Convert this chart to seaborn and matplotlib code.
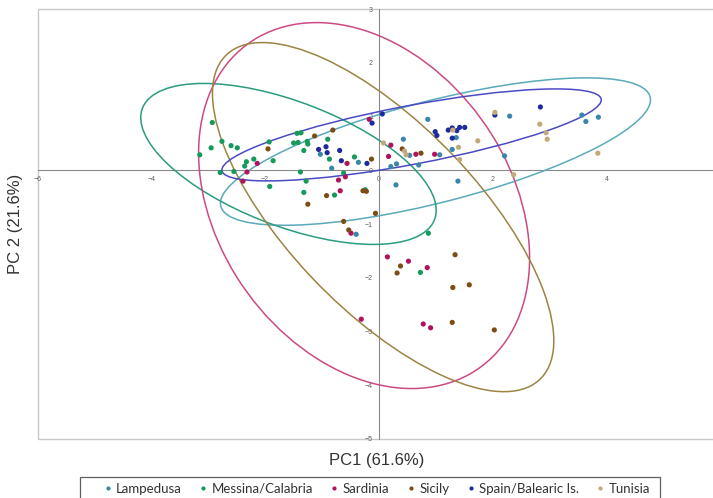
import numpy as np
import pandas as pd
import matplotlib
matplotlib.use("Agg")
import matplotlib.pyplot as plt
from matplotlib.patches import Ellipse, Rectangle
from matplotlib.lines import Line2D
import seaborn as sns

# populations (legend order)
groups = ["Lampedusa", "Messina/Calabria", "Sardinia", "Sicily",
          "Spain/Balearic Is.", "Tunisia"]

# PCA scores
lampedusa_pc1 = [-1.03, -0.83, -0.36, -0.40, 0.86, 0.43, 1.36, 1.29, 1.07, 0.70,
                 0.31, 0.21, 0.54, 0.30, 1.39, 2.30, 3.57, 3.64, 3.86, 2.21]
lampedusa_pc2 = [0.30, 0.04, 0.15, -1.19, 0.95, 0.58, 0.61, 0.39, 0.29, 0.10,
                 0.12, 0.07, 0.28, -0.27, -0.20, 1.01, 1.03, 0.91, 0.99, 0.27]

messina_pc1 = [-2.93, -2.76, -2.95, -3.15, -2.60, -2.49, -2.20, -2.33, -2.36, -2.79,
               -2.55, -1.93, -1.86, -1.92, -1.44, -1.37, -1.50, -1.42, -1.26, -1.25,
               -1.32, -0.90, -0.87, -1.38, -1.28, -1.32, -0.78, -0.62, -0.43, -0.24,
               0.87, 0.73]
messina_pc2 = [0.89, 0.54, 0.42, 0.29, 0.46, 0.42, 0.21, 0.16, 0.08, -0.04,
               -0.02, 0.53, 0.18, -0.30, 0.69, 0.70, 0.51, 0.52, 0.54, 0.49,
               0.37, 0.58, 0.21, -0.03, -0.20, -0.41, -0.46, -0.05, 0.25, -0.36,
               -1.17, -1.90]

sardinia_pc1 = [-2.14, -2.32, -2.39, -0.56, -0.71, -0.68, -0.59, -0.17, 0.17, 0.21,
                0.65, 0.98, -0.49, 0.15, 0.52, 0.85, -0.31, 0.78, 0.91]
sardinia_pc2 = [0.13, -0.03, -0.20, 0.13, -0.18, -0.38, -0.12, 0.95, 0.26, 0.47,
                0.30, 0.30, -1.17, -1.61, -1.69, -1.81, -2.77, -2.86, -2.93]

sicily_pc1 = [-1.95, -1.13, -0.81, -0.13, -0.28, -0.22, -0.92, -1.25, -0.06, -0.62,
              -0.53, 0.41, 0.74, 0.38, 0.32, 1.34, 1.30, 1.59, 1.29, 2.03]
sicily_pc2 = [0.40, 0.64, 0.75, 0.21, -0.38, -0.39, -0.47, -0.63, -0.80, -0.95,
              -1.11, 0.40, 0.32, -1.78, -1.91, -1.57, -2.18, -2.13, -2.83, -2.97]

spain_pc1 = [-0.93, -0.91, -1.06, -0.69, -0.66, -0.21, -0.12, 0.06, 0.99, 1.02,
             1.22, 1.29, 1.37, 1.42, 1.51, 1.29, 2.04, 2.84]
spain_pc2 = [0.44, 0.33, 0.39, 0.37, 0.18, 0.13, 0.88, 1.05, 0.72, 0.65,
             0.75, 0.79, 0.74, 0.80, 0.80, 0.60, 1.03, 1.18]

tunisia_pc1 = [0.08, 0.45, 0.48, 1.30, 1.40, 1.42, 1.74, 2.04, 2.83, 2.94,
               2.96, 2.37, 3.85]
tunisia_pc2 = [0.51, 0.36, 0.29, 0.75, 0.43, 0.20, 0.55, 1.08, 0.86, 0.70,
               0.58, -0.08, 0.32]

# 95% confidence ellipses (no ellipse drawn for Tunisia)
ellipse_groups = ["Lampedusa", "Messina/Calabria", "Sardinia", "Sicily", "Spain/Balearic Is."]
ellipse_cx = [0.995, -1.59, -0.26, 0.075, 0.575]
ellipse_cy = [0.35, 0.12, -0.655, -0.87, 0.66]
ellipse_w = [7.82, 5.54, 7.29, 8.18, 6.80]
ellipse_h = [1.89, 2.30, 5.21, 3.37, 1.09]
ellipse_angle = [15.2, -22.4, -59.4, -48.2, 11.35]

pc1_all = [lampedusa_pc1, messina_pc1, sardinia_pc1, sicily_pc1, spain_pc1, tunisia_pc1]
pc2_all = [lampedusa_pc2, messina_pc2, sardinia_pc2, sicily_pc2, spain_pc2, tunisia_pc2]

frames = []
for g, xs, ys in zip(groups, pc1_all, pc2_all):
    frames.append(pd.DataFrame({"PC1": xs, "PC2": ys, "Population": g}))
df = pd.concat(frames, ignore_index=True)

point_colors = {
    "Lampedusa": "#3a86a8",
    "Messina/Calabria": "#159a5c",
    "Sardinia": "#b0125e",
    "Sicily": "#7c4c14",
    "Spain/Balearic Is.": "#1c2a9c",
    "Tunisia": "#c2a97a",
}
ellipse_colors = {
    "Lampedusa": "#5aaabb",
    "Messina/Calabria": "#2a9c80",
    "Sardinia": "#cc4a84",
    "Sicily": "#9c8444",
    "Spain/Balearic Is.": "#4a4ac4",
}

sns.set_style("white")
plt.rcParams["font.family"] = ["Liberation Sans", "DejaVu Sans"]

fig = plt.figure(figsize=(7.13, 4.98), dpi=100)
ax = fig.add_axes([0.0529, 0.1185, 0.957, 0.863])

sns.scatterplot(data=df, x="PC1", y="PC2", hue="Population", palette=point_colors,
                s=14, edgecolor="none", linewidth=0, legend=False, ax=ax, zorder=3)

for g, cx, cy, w, h, a in zip(ellipse_groups, ellipse_cx, ellipse_cy,
                              ellipse_w, ellipse_h, ellipse_angle):
    ax.add_patch(Ellipse((cx, cy), w, h, angle=a, fill=False,
                         edgecolor=ellipse_colors[g], lw=1.1, zorder=2))

ax.set_xlim(-6, 6)
ax.set_ylim(-5, 3)
ax.set_xlabel("")
ax.set_ylabel("")

# axes crossing at the origin
for side in ["top", "right"]:
    ax.spines[side].set_visible(False)
for side in ["left", "bottom"]:
    ax.spines[side].set_position(("data", 0))
    ax.spines[side].set_color("#8a8a8a")
    ax.spines[side].set_linewidth(0.8)
    ax.spines[side].set_zorder(1)

ax.set_xticks([-6, -4, -2, 0, 2, 4])
ax.set_yticks([-5, -4, -3, -2, -1, 0, 1, 2, 3])
ax.tick_params(direction="inout", length=4.5, width=0.7, color="#8a8a8a",
               labelsize=5, labelcolor="#606060", pad=2)

# plot-area frame
ax.add_patch(Rectangle((0, 0), 1, 1, transform=ax.transAxes, fill=False,
                       edgecolor="#c8c8c8", lw=1.0, clip_on=False, zorder=0))

fig.text(377 / 713, 1 - 460 / 498, "PC1 (61.6%)", ha="center", va="center",
         fontsize=12, color="#333333")
fig.text(16 / 713, 1 - 224 / 498, "PC 2 (21.6%)", ha="center", va="center",
         rotation=90, fontsize=12, color="#333333")

# legend box, wider than its content
fig.patches.append(Rectangle((80 / 713, -0.05), 580 / 713, 1 - 476.7 / 498 + 0.05,
                             transform=fig.transFigure, fill=False,
                             edgecolor="#606060", lw=0.9))

handles = [Line2D([], [], marker="o", ls="none", markersize=3,
                  markerfacecolor=point_colors[g], markeredgecolor="none")
           for g in groups]
leg = fig.legend(handles, groups, loc="center",
                 bbox_to_anchor=(377 / 713, 1 - 488.5 / 498), ncol=6,
                 frameon=False, handlelength=0.6, handletextpad=0.35,
                 columnspacing=1.3, borderpad=0, borderaxespad=0,
                 prop={"family": "Lato", "size": 9.5})
for t in leg.get_texts():
    t.set_color("#333333")

fig.savefig("out.png", dpi=100)
